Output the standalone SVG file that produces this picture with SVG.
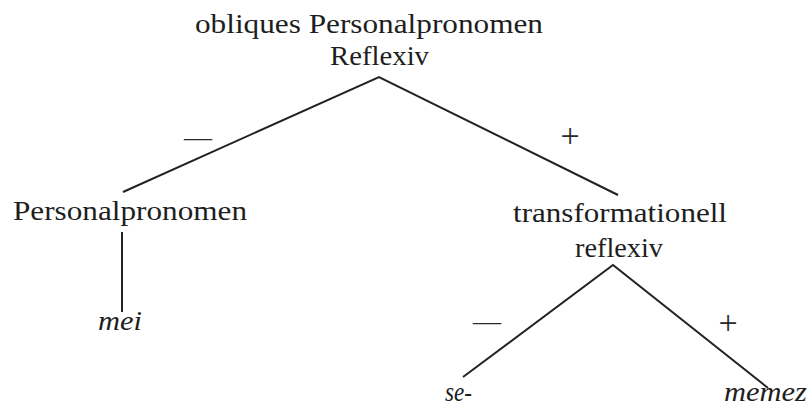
<svg xmlns="http://www.w3.org/2000/svg" width="809" height="407" viewBox="0 0 809 407">
<style>
.t{font-family:"Liberation Serif","Times New Roman",serif;font-size:27px;fill:#1e1e1e}
.i{font-style:italic}
.s{font-family:"Liberation Serif","Times New Roman",serif;font-size:28px;fill:#2a2a2a;text-anchor:middle}
.p{font-family:"Liberation Serif","Times New Roman",serif;font-size:34px;fill:#2a2a2a;text-anchor:middle}
.e{stroke:#222;stroke-width:2;fill:none}
</style>
<rect width="809" height="407" fill="#fff"/>
<g id="root">
<text class="t" x="195" y="33" textLength="348" lengthAdjust="spacingAndGlyphs">obliques Personalpronomen</text>
<text class="t" x="330" y="65" textLength="99" lengthAdjust="spacingAndGlyphs">Reflexiv</text>
</g>
<g id="personal">
<text class="t" x="13" y="220" textLength="234" lengthAdjust="spacingAndGlyphs">Personalpronomen</text>
</g>
<g id="mei">
<text class="t i" x="98" y="330" textLength="44" lengthAdjust="spacingAndGlyphs">mei</text>
</g>
<g id="transf">
<text class="t" x="513" y="222" textLength="214" lengthAdjust="spacingAndGlyphs">transformationell</text>
<text class="t" x="575" y="257" textLength="88" lengthAdjust="spacingAndGlyphs">reflexiv</text>
</g>
<g id="se">
<text class="t i" x="445" y="401" textLength="27" lengthAdjust="spacingAndGlyphs">se-</text>
</g>
<g id="memez">
<text class="t i" x="724" y="401" textLength="83" lengthAdjust="spacingAndGlyphs">memez</text>
</g>
<g id="connectors">
<path class="e" d="M123 192 L379 77 L618 195"/>
<path class="e" d="M122 232 L122 312"/>
<path class="e" d="M463 377 L613 265 L768 388"/>
<text class="s" x="198" y="146">—</text>
<text class="p" x="570" y="147">+</text>
<text class="s" x="487" y="330">—</text>
<text class="p" x="728" y="334">+</text>
</g>
</svg>
